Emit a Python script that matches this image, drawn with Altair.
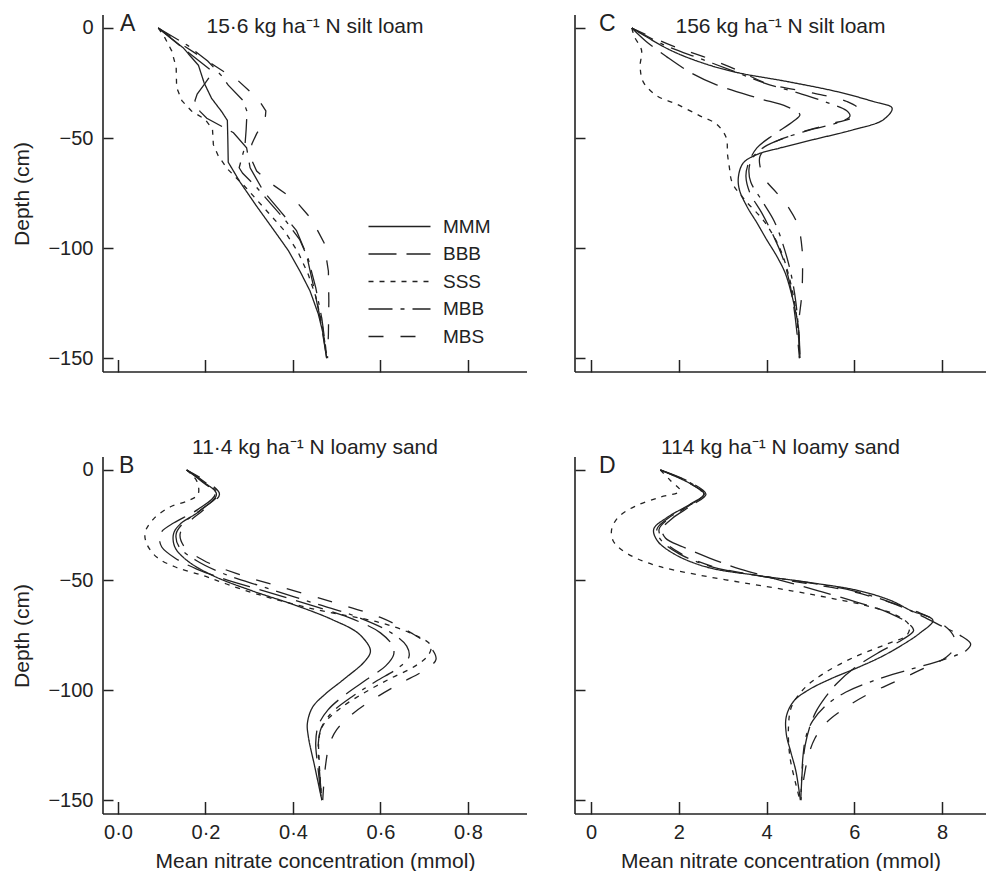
import altair as alt
import pandas as pd

FONT = "Liberation Sans"
INK = "#222222"

TREATMENTS = ["MMM", "BBB", "SSS", "MBB", "MBS"]
DASHES = [[1, 0], [28, 10], [5, 6], [24, 8, 4, 8], [15, 17]]

Y_TICKS = [0, -50, -100, -150]
Y_DOMAIN = [-156.3, 5.9]

# (depth cm, mean nitrate) pairs for each treatment
# Panel A: 15.6 kg/ha N, silt loam (mmol)
A_MMM = [(0, 0.092), (-9, 0.149), (-17, 0.184), (-25, 0.197), (-32, 0.214), (-38, 0.237), (-42, 0.250),
         (-50, 0.251), (-61, 0.252), (-70, 0.279), (-81, 0.317), (-91.5, 0.355), (-101, 0.389),
         (-110.5, 0.416), (-119.5, 0.439), (-130, 0.458), (-139, 0.469), (-150, 0.477)]
A_BBB = [(0, 0.092), (-10.5, 0.157), (-19.5, 0.214), (-22, 0.210), (-26, 0.196), (-30, 0.181),
         (-33, 0.176), (-36, 0.180), (-38, 0.188), (-41, 0.203), (-47.6, 0.264), (-54.4, 0.294),
         (-63.5, 0.302), (-74, 0.332), (-83, 0.370), (-92, 0.408), (-103, 0.431), (-116.5, 0.446),
         (-131.7, 0.462), (-150, 0.477)]
A_SSS = [(0, 0.092), (-4.4, 0.107), (-10.5, 0.123), (-18, 0.133), (-27, 0.134), (-33, 0.146),
         (-37.7, 0.168), (-41.5, 0.199), (-46, 0.216), (-53, 0.218), (-58, 0.229), (-64, 0.250),
         (-72, 0.290), (-82, 0.335), (-92, 0.380), (-102, 0.412), (-112, 0.435), (-122, 0.452),
         (-135, 0.467), (-150, 0.478)]
A_MBB = [(0, 0.092), (-8, 0.160), (-15, 0.205), (-22, 0.238), (-26, 0.252), (-33, 0.286), (-38, 0.295),
         (-46, 0.293), (-54, 0.290), (-59, 0.283), (-63.5, 0.277), (-66, 0.285), (-72, 0.315),
         (-80, 0.350), (-88, 0.385), (-96, 0.415), (-105, 0.435), (-118, 0.452), (-132, 0.466),
         (-150, 0.478)]
A_MBS = [(0, 0.092), (-8, 0.150), (-17.3, 0.222), (-24, 0.275), (-32.4, 0.321), (-37.7, 0.338),
         (-42.3, 0.336), (-48, 0.317), (-52.7, 0.306), (-58.9, 0.303), (-65, 0.317), (-70.8, 0.351),
         (-78.3, 0.405), (-87, 0.443), (-97.6, 0.471), (-110.5, 0.481), (-124, 0.482), (-139, 0.481),
         (-150, 0.479)]

# Panel B: 11.4 kg/ha N, loamy sand (mmol)
B_MMM = [(0, 0.157), (-5, 0.192), (-11, 0.225), (-18.6, 0.187), (-24.6, 0.142), (-29, 0.127),
         (-35, 0.130), (-41, 0.157), (-48, 0.217), (-55, 0.308), (-61, 0.399), (-68, 0.490),
         (-74.5, 0.551), (-82, 0.577), (-86.5, 0.566), (-95.6, 0.513), (-101.6, 0.475),
         (-107.7, 0.445), (-115, 0.433), (-121, 0.435), (-135, 0.450), (-150, 0.466)]
B_BBB = [(0, 0.157), (-5, 0.190), (-11, 0.222), (-18, 0.182), (-24, 0.128), (-28, 0.100), (-31, 0.095),
         (-35, 0.100), (-40, 0.130), (-45, 0.180), (-50, 0.250), (-55, 0.335), (-62, 0.450),
         (-68, 0.540), (-74, 0.600), (-80, 0.628), (-84, 0.630), (-89, 0.612), (-95, 0.570),
         (-102, 0.520), (-109, 0.480), (-116, 0.458), (-124, 0.452), (-135, 0.457), (-150, 0.465)]
B_SSS = [(0, 0.157), (-5, 0.180), (-11, 0.183), (-14, 0.160), (-16.8, 0.119), (-22.3, 0.081),
         (-28.4, 0.062), (-33.7, 0.066), (-39.7, 0.089), (-44.3, 0.134), (-48, 0.195), (-51.8, 0.248),
         (-56.3, 0.316), (-63.1, 0.445), (-69.2, 0.596), (-74.4, 0.672), (-79.7, 0.715), (-84, 0.710),
         (-89, 0.680), (-95, 0.620), (-101, 0.565), (-108, 0.510), (-115, 0.472), (-121, 0.460),
         (-133, 0.460), (-150, 0.466)]
B_MBB = [(0, 0.157), (-5, 0.195), (-11, 0.228), (-18, 0.190), (-24, 0.150), (-29, 0.133), (-35, 0.140),
         (-41, 0.178), (-47, 0.240), (-53, 0.330), (-60, 0.440), (-67, 0.550), (-74, 0.625),
         (-80, 0.660), (-85, 0.665), (-90, 0.640), (-96, 0.590), (-103, 0.535), (-110, 0.490),
         (-117, 0.465), (-124, 0.458), (-135, 0.460), (-150, 0.466)]
B_MBS = [(0, 0.157), (-5, 0.200), (-11, 0.232), (-18, 0.196), (-24, 0.160), (-29, 0.142), (-35, 0.152),
         (-41, 0.195), (-47, 0.270), (-53, 0.370), (-60, 0.490), (-67, 0.600), (-74, 0.670),
         (-80, 0.712), (-86, 0.727), (-91, 0.700), (-97, 0.645), (-104, 0.585), (-111, 0.535),
         (-118, 0.500), (-125, 0.483), (-135, 0.474), (-150, 0.468)]

# Panel C: 156 kg/ha N, silt loam (mmol)
C_MMM = [(0, 0.93), (-10, 1.80), (-16, 2.56), (-20.2, 3.32), (-24.3, 4.46), (-28.9, 5.60), (-33.4, 6.43),
         (-36.4, 6.86), (-41.7, 6.66), (-46.2, 5.98), (-50.7, 5.07), (-54.5, 4.31), (-57.5, 3.78),
         (-61.3, 3.47), (-67.4, 3.36), (-73.4, 3.38), (-81, 3.55), (-88.5, 3.78), (-96.1, 4.00),
         (-103.6, 4.23), (-111.1, 4.42), (-118.7, 4.54), (-127.8, 4.65), (-136.8, 4.73), (-150, 4.76)]
C_BBB = [(0, 0.93), (-6, 1.25), (-13, 1.72), (-20.5, 2.29), (-25.8, 2.86), (-31.9, 3.81), (-35.7, 4.46),
         (-39.4, 4.76), (-42.4, 4.61), (-48.5, 4.16), (-54.5, 3.78), (-61.3, 3.59), (-67.4, 3.53),
         (-74.9, 3.62), (-84, 3.89), (-94.6, 4.16), (-105, 4.38), (-117.2, 4.54), (-131, 4.65),
         (-150, 4.75)]
C_SSS = [(0, 0.93), (-4, 0.99), (-10, 1.15), (-17.5, 1.12), (-24.5, 1.19), (-30.8, 1.50), (-34.6, 1.95),
         (-39.9, 2.48), (-43.7, 2.86), (-49.8, 3.08), (-57.4, 3.11), (-63, 3.15), (-70.4, 3.22),
         (-78, 3.50), (-88, 3.95), (-100, 4.30), (-112, 4.50), (-125, 4.64), (-138, 4.72), (-150, 4.75)]
C_MBB = [(0, 0.93), (-8, 1.70), (-14, 2.50), (-20, 3.30), (-25, 3.95), (-30, 4.80), (-34, 5.40),
         (-37.5, 5.82), (-40, 5.90), (-42.5, 5.70), (-46, 5.05), (-50, 4.40), (-54, 3.95), (-59, 3.68),
         (-64, 3.60), (-70, 3.64), (-78, 3.88), (-88, 4.18), (-100, 4.40), (-112, 4.56), (-125, 4.67),
         (-138, 4.73), (-150, 4.76)]
C_MBS = [(0, 0.93), (-7.7, 1.80), (-13, 2.56), (-19, 3.32), (-25.1, 4.00), (-29.6, 5.07), (-33.4, 5.83),
         (-36.8, 6.09), (-40.2, 6.00), (-44, 5.37), (-48.5, 4.61), (-53, 4.08), (-58.3, 3.85),
         (-62.8, 3.85), (-68.9, 3.97), (-74.9, 4.23), (-82.5, 4.53), (-90, 4.72), (-100.6, 4.81),
         (-111.1, 4.82), (-121.7, 4.80), (-135.3, 4.73), (-150, 4.76)]

# Panel D: 114 kg/ha N, loamy sand (mmol)
D_MMM = [(0, 1.58), (-6.3, 2.27), (-10.9, 2.57), (-15.4, 2.27), (-21.5, 1.74), (-26.8, 1.43),
         (-32.1, 1.51), (-38.1, 1.89), (-44.2, 2.65), (-47.9, 3.79), (-51, 4.93), (-54.7, 6.07),
         (-59.3, 6.83), (-63.8, 7.28), (-68.3, 7.79), (-74, 7.50), (-80, 7.05), (-85, 6.60),
         (-90, 6.05), (-95, 5.45), (-100, 4.95), (-105, 4.62), (-112, 4.45), (-120, 4.45),
         (-128, 4.55), (-137, 4.67), (-150, 4.77)]
D_BBB = [(0, 1.58), (-6, 2.30), (-11, 2.62), (-16, 2.30), (-22, 1.85), (-27, 1.62), (-31, 1.70),
         (-35, 2.10), (-40, 2.70), (-45, 3.40), (-50, 4.30), (-55, 5.20), (-60, 6.05), (-65, 6.80),
         (-70, 7.25), (-73, 7.35), (-77, 7.10), (-83, 6.55), (-90, 6.00), (-97, 5.60), (-103, 5.35),
         (-110, 5.12), (-117, 4.98), (-125, 4.88), (-135, 4.82), (-150, 4.78)]
D_SSS = [(0, 1.58), (-5, 1.82), (-9.5, 2.03), (-12.5, 1.55), (-16.5, 1.00), (-21.5, 0.62), (-27, 0.47),
         (-32, 0.50), (-36, 0.68), (-40, 1.02), (-43.8, 1.55), (-47.5, 2.40), (-51.5, 3.55),
         (-55, 4.60), (-58, 5.40), (-61.5, 6.25), (-65.5, 6.90), (-70.5, 7.25), (-75, 7.20),
         (-79, 6.75), (-85, 6.00), (-92.5, 5.30), (-99, 4.87), (-107.5, 4.57), (-116.5, 4.50),
         (-130, 4.53), (-143, 4.67), (-150, 4.76)]
D_MBB = [(0, 1.58), (-6, 2.28), (-11, 2.58), (-16, 2.25), (-22, 1.75), (-27, 1.50), (-32, 1.60),
         (-38, 2.00), (-44, 2.75), (-48, 3.80), (-51, 4.90), (-55, 6.00), (-60, 6.80), (-65, 7.40),
         (-70, 7.90), (-75, 8.40), (-79, 8.65), (-82, 8.55), (-86, 8.05), (-91, 7.20), (-96, 6.40),
         (-101, 5.80), (-107, 5.35), (-114, 5.05), (-121, 4.90), (-130, 4.83), (-150, 4.78)]
D_MBS = [(0, 1.58), (-6, 2.25), (-11, 2.55), (-16, 2.25), (-22, 1.78), (-27, 1.55), (-32, 1.65),
         (-38, 2.05), (-44, 2.80), (-48, 3.80), (-51.5, 4.90), (-55, 5.90), (-60, 6.80), (-65, 7.50),
         (-70, 8.00), (-75, 8.25), (-80, 8.30), (-85, 8.10), (-90, 7.60), (-96, 6.95), (-102, 6.30),
         (-108, 5.80), (-115, 5.35), (-122, 5.10), (-130, 4.95), (-140, 4.85), (-150, 4.78)]

TITLES = {
    "A": "15·6 kg ha⁻¹ N silt loam",
    "B": "11·4 kg ha⁻¹ N loamy sand",
    "C": "156 kg ha⁻¹ N silt loam",
    "D": "114 kg ha⁻¹ N loamy sand",
}

SMALL_TICKS = [0, 0.2, 0.4, 0.6, 0.8]
LARGE_TICKS = [0, 2, 4, 6, 8]
SMALL_DOMAIN = [-0.0343, 0.935]
LARGE_DOMAIN = [-0.365, 9.0]

H = 357
W_LEFT = 424
W_RIGHT = 411
XT = 12.5   # inward tick length on the x axes
YT = 10     # inward tick length on the y axes


def frame(series):
    rows = []
    for name, pts in zip(TREATMENTS, series):
        for i, (d, c) in enumerate(pts):
            rows.append({"treatment": name, "depth": d, "conc": c, "i": i})
    return pd.DataFrame(rows)


def panel(letter, series, width, xdomain, xticks, dot_labels, left, bottom,
          title_offset, letter_x, interp, show_legend=False):
    df = frame(series)

    x_kw = dict(values=xticks, tickSize=XT, offset=-XT, domain=False, grid=False,
                labels=bottom, labelPadding=8)
    if bottom:
        x_kw["title"] = "Mean nitrate concentration (mmol)"
        x_kw["titlePadding"] = 8
        if dot_labels:
            x_kw["labelExpr"] = "replace(format(datum.value, '.1f'), '.', '·')"
        else:
            x_kw["labelExpr"] = "format(datum.value, 'd')"
    else:
        x_kw["title"] = None

    y_kw = dict(values=Y_TICKS, tickSize=YT, offset=-YT, domain=False, grid=False,
                labels=left, labelPadding=10)
    if left:
        y_kw["title"] = "Depth (cm)"
        y_kw["titlePadding"] = 15
        y_kw["labelExpr"] = "replace(format(datum.value, 'd'), '-', '−')"
    else:
        y_kw["title"] = None

    if show_legend:
        legend = alt.Legend(
            title=None, orient="none", legendX=287, legendY=202, direction="vertical",
            symbolType="M-6.2,0H6.2", symbolSize=100, symbolStrokeWidth=1.3,
            symbolStrokeColor=INK, symbolFillColor="transparent",
            labelFont=FONT, labelFontSize=19, labelColor=INK, labelOffset=34,
            rowPadding=7.5, padding=0,
        )
    else:
        legend = None

    lines = alt.Chart(df).mark_line(strokeWidth=1.3, color=INK, interpolate=interp).encode(
        x=alt.X("conc:Q", scale=alt.Scale(domain=xdomain, nice=False, zero=False),
                axis=alt.Axis(**x_kw)),
        y=alt.Y("depth:Q", scale=alt.Scale(domain=Y_DOMAIN, nice=False, zero=False),
                axis=alt.Axis(**y_kw)),
        strokeDash=alt.StrokeDash("treatment:N",
                                  scale=alt.Scale(domain=TREATMENTS, range=DASHES),
                                  legend=legend),
        order=alt.Order("i:Q"),
    )

    one = pd.DataFrame({"k": [0]})
    y_line = alt.Chart(one).mark_rule(color=INK, strokeWidth=1.6).encode(
        x=alt.value(0), y=alt.value(0), y2=alt.value(H))
    x_line = alt.Chart(one).mark_rule(color=INK, strokeWidth=1.6).encode(
        x=alt.value(0), x2=alt.value(width), y=alt.value(H))
    tag = alt.Chart(one).mark_text(
        text=letter, align="left", baseline="alphabetic", fontSize=23, font=FONT, color=INK
    ).encode(x=alt.value(letter_x), y=alt.value(16))

    return alt.layer(lines, y_line, x_line, tag).properties(
        width=width, height=H,
        title=alt.TitleParams(TITLES[letter], anchor="middle", offset=title_offset,
                              baseline="alphabetic", font=FONT, fontSize=21,
                              fontWeight="normal", color=INK),
    )


pA = panel("A", [A_MMM, A_BBB, A_SSS, A_MBB, A_MBS], W_LEFT, SMALL_DOMAIN, SMALL_TICKS, True,
           left=True, bottom=False, title_offset=-41, letter_x=17, interp="linear",
           show_legend=True)
pC = panel("C", [C_MMM, C_BBB, C_SSS, C_MBB, C_MBS], W_RIGHT, LARGE_DOMAIN, LARGE_TICKS, False,
           left=False, bottom=False, title_offset=-41, letter_x=24, interp="catmull-rom")
pB = panel("B", [B_MMM, B_BBB, B_SSS, B_MBB, B_MBS], W_LEFT, SMALL_DOMAIN, SMALL_TICKS, True,
           left=True, bottom=True, title_offset=-20, letter_x=16, interp="catmull-rom")
pD = panel("D", [D_MMM, D_BBB, D_SSS, D_MBB, D_MBS], W_RIGHT, LARGE_DOMAIN, LARGE_TICKS, False,
           left=False, bottom=True, title_offset=-20, letter_x=24, interp="catmull-rom")

top = alt.hconcat(pA, pC, spacing=46).resolve_scale(strokeDash="independent")
bottom = alt.hconcat(pB, pD, spacing=46).resolve_scale(strokeDash="independent")

chart = (
    alt.vconcat(top, bottom, spacing=64)
    .resolve_scale(strokeDash="independent")
    .properties(padding={"left": 11, "top": 13, "right": 0, "bottom": 0})
    .configure(font=FONT)
    .configure_view(stroke="transparent", strokeWidth=0)
    .configure_axis(labelFont=FONT, labelFontSize=20, labelColor=INK,
                    titleFont=FONT, titleFontSize=21, titleFontWeight="normal", titleColor=INK,
                    tickColor=INK, tickWidth=1.5)
)

chart.save("out.html", embed_options={"renderer": "svg", "actions": False})
